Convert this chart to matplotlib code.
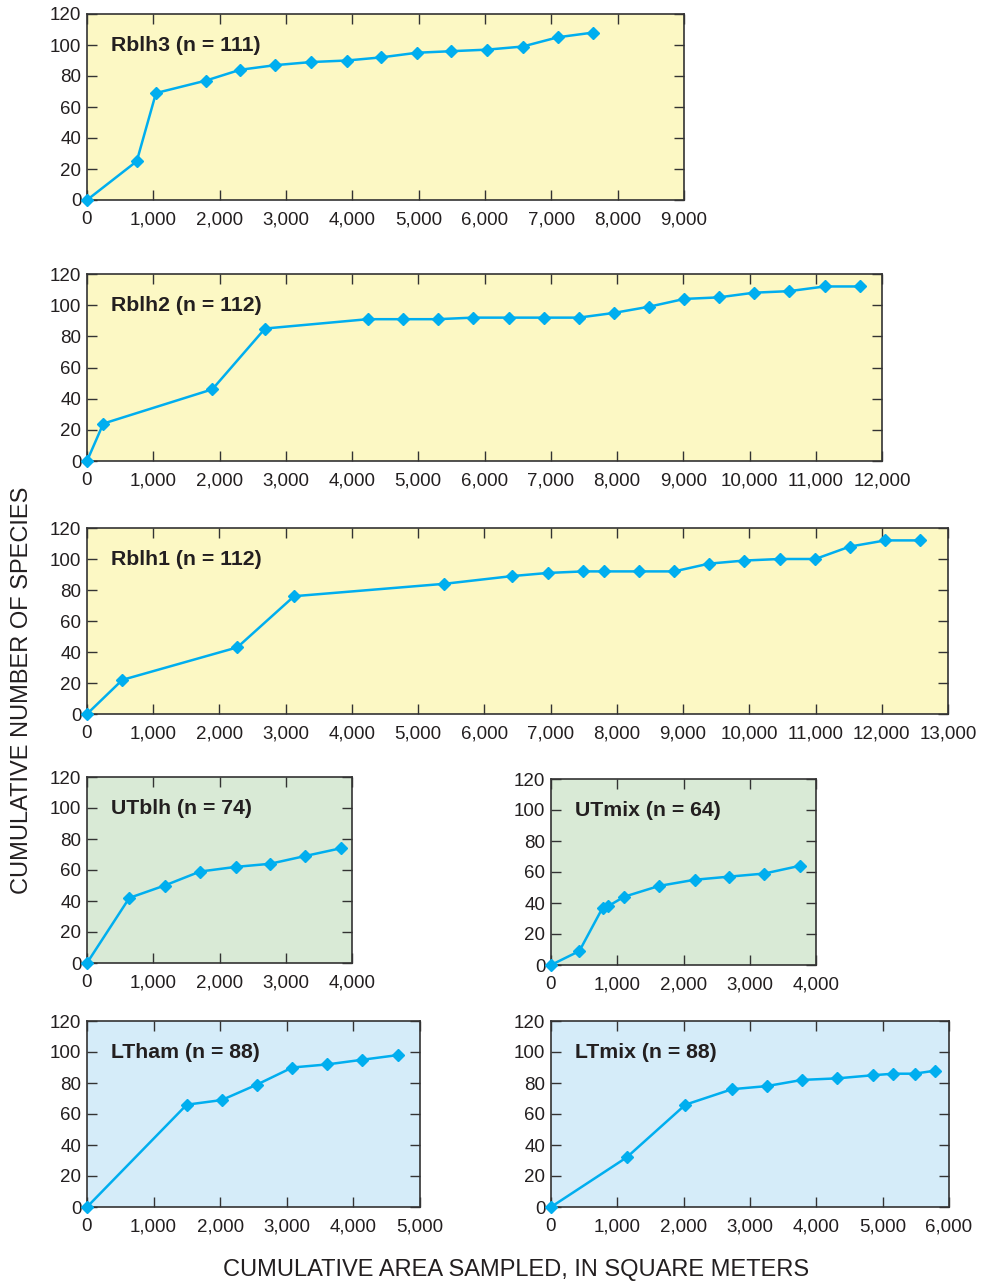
import numpy as np
import matplotlib
matplotlib.use("Agg")
import matplotlib.pyplot as plt
from matplotlib.ticker import FuncFormatter, MultipleLocator

plt.rcParams['font.family'] = ['Liberation Sans', 'DejaVu Sans']

# area sampled (m2) and cumulative number of species, one pair per site
x_rblh3 = [0, 750, 1040, 1790, 2307, 2840, 3379, 3917, 4434, 4973, 5490, 6029, 6566, 7100, 7627]
y_rblh3 = [0, 25, 69, 77, 84, 87, 89, 90, 92, 95, 96, 97, 99, 105, 108]

x_rblh2 = [0, 246, 1892, 2687, 4237, 4775, 5294, 5822, 6366, 6898, 7422, 7950, 8483, 9016, 9535,
           10068, 10600, 11135, 11667]
y_rblh2 = [0, 24, 46, 85, 91, 91, 91, 92, 92, 92, 92, 95, 99, 104, 105, 108, 109, 112, 112]

x_rblh1 = [0, 533, 2270, 3127, 5397, 6424, 6959, 7492, 7805, 8334, 8867, 9391, 9925, 10458,
           10997, 11516, 12054, 12583]
y_rblh1 = [0, 22, 43, 76, 84, 89, 91, 92, 92, 92, 92, 97, 99, 100, 100, 108, 112, 112]

x_utblh = [0, 639, 1173, 1706, 2244, 2762, 3291, 3829]
y_utblh = [0, 42, 50, 59, 62, 64, 69, 74]

x_utmix = [0, 428, 780, 865, 1102, 1630, 2169, 2687, 3220, 3758]
y_utmix = [0, 9, 37, 38, 44, 51, 55, 57, 59, 64]

x_ltham = [0, 1497, 2023, 2553, 3083, 3608, 4134, 4665]
y_ltham = [0, 66, 69, 79, 90, 92, 95, 98]

x_ltmix = [0, 1141, 2026, 2730, 3253, 3786, 4318, 4851, 5163, 5480, 5796]
y_ltmix = [0, 32, 66, 76, 78, 82, 83, 85, 86, 86, 88]

W, H = 989, 1283
YELLOW = '#fcf8c4'
GREEN = '#d9ead6'
BLUE = '#d5ecf9'
LINE = '#00aeef'
INK = '#231f20'


def rect(l, t, r, b):
    # pixel box -> figure fraction
    return [l / W, 1 - b / H, (r - l) / W, (b - t) / H]


fig = plt.figure(figsize=(W / 100, H / 100), dpi=100)

panels = [
    (rect(87, 14, 684, 200), 9000, YELLOW, 'Rblh3 (n = 111)', x_rblh3, y_rblh3),
    (rect(87, 274, 882, 461), 12000, YELLOW, 'Rblh2 (n = 112)', x_rblh2, y_rblh2),
    (rect(87, 528, 948, 714), 13000, YELLOW, 'Rblh1 (n = 112)', x_rblh1, y_rblh1),
    (rect(87, 777, 352, 963), 4000, GREEN, 'UTblh (n = 74)', x_utblh, y_utblh),
    (rect(551, 779, 816, 965), 4000, GREEN, 'UTmix (n = 64)', x_utmix, y_utmix),
    (rect(87, 1021, 420, 1207), 5000, BLUE, 'LTham (n = 88)', x_ltham, y_ltham),
    (rect(551, 1021, 949, 1207), 6000, BLUE, 'LTmix (n = 88)', x_ltmix, y_ltmix),
]

for box, xmax, bg, name, xs, ys in panels:
    ax = fig.add_axes(box)
    ax.set_facecolor(bg)
    ax.plot(xs, ys, '-', color=LINE, lw=1.8, marker='D', ms=6.5, mec=LINE, mfc=LINE, clip_on=False, zorder=3)
    ax.set_xlim(0, xmax)
    ax.set_ylim(0, 120)
    ax.xaxis.set_major_locator(MultipleLocator(1000))
    ax.yaxis.set_major_locator(MultipleLocator(20))
    ax.xaxis.set_major_formatter(FuncFormatter(lambda v, p: f"{int(v):,}"))
    ax.tick_params(direction='in', length=7, width=1, color='#333333', top=True, right=True,
                   labelsize=13.5, labelcolor=INK)
    ax.tick_params(axis='x', pad=8)
    ax.tick_params(axis='y', pad=4)
    for s in ax.spines.values():
        s.set_color('#333333')
        s.set_linewidth(1.2)
    ax.annotate(name, xy=(0, 1), xycoords='axes fraction', xytext=(17, -22.5),
                textcoords='offset points', ha='left', va='center',
                fontsize=15.3, fontweight='bold', color=INK)

fig.text(22 / W, 1 - 690 / H, 'CUMULATIVE NUMBER OF SPECIES', rotation=90,
         ha='center', va='center', fontsize=17, color=INK)
fig.text(516 / W, 1 - 1270 / H, 'CUMULATIVE AREA SAMPLED, IN SQUARE METERS',
         ha='center', va='center', fontsize=17, color=INK)

fig.savefig('out.png', dpi=100)
plt.close()
